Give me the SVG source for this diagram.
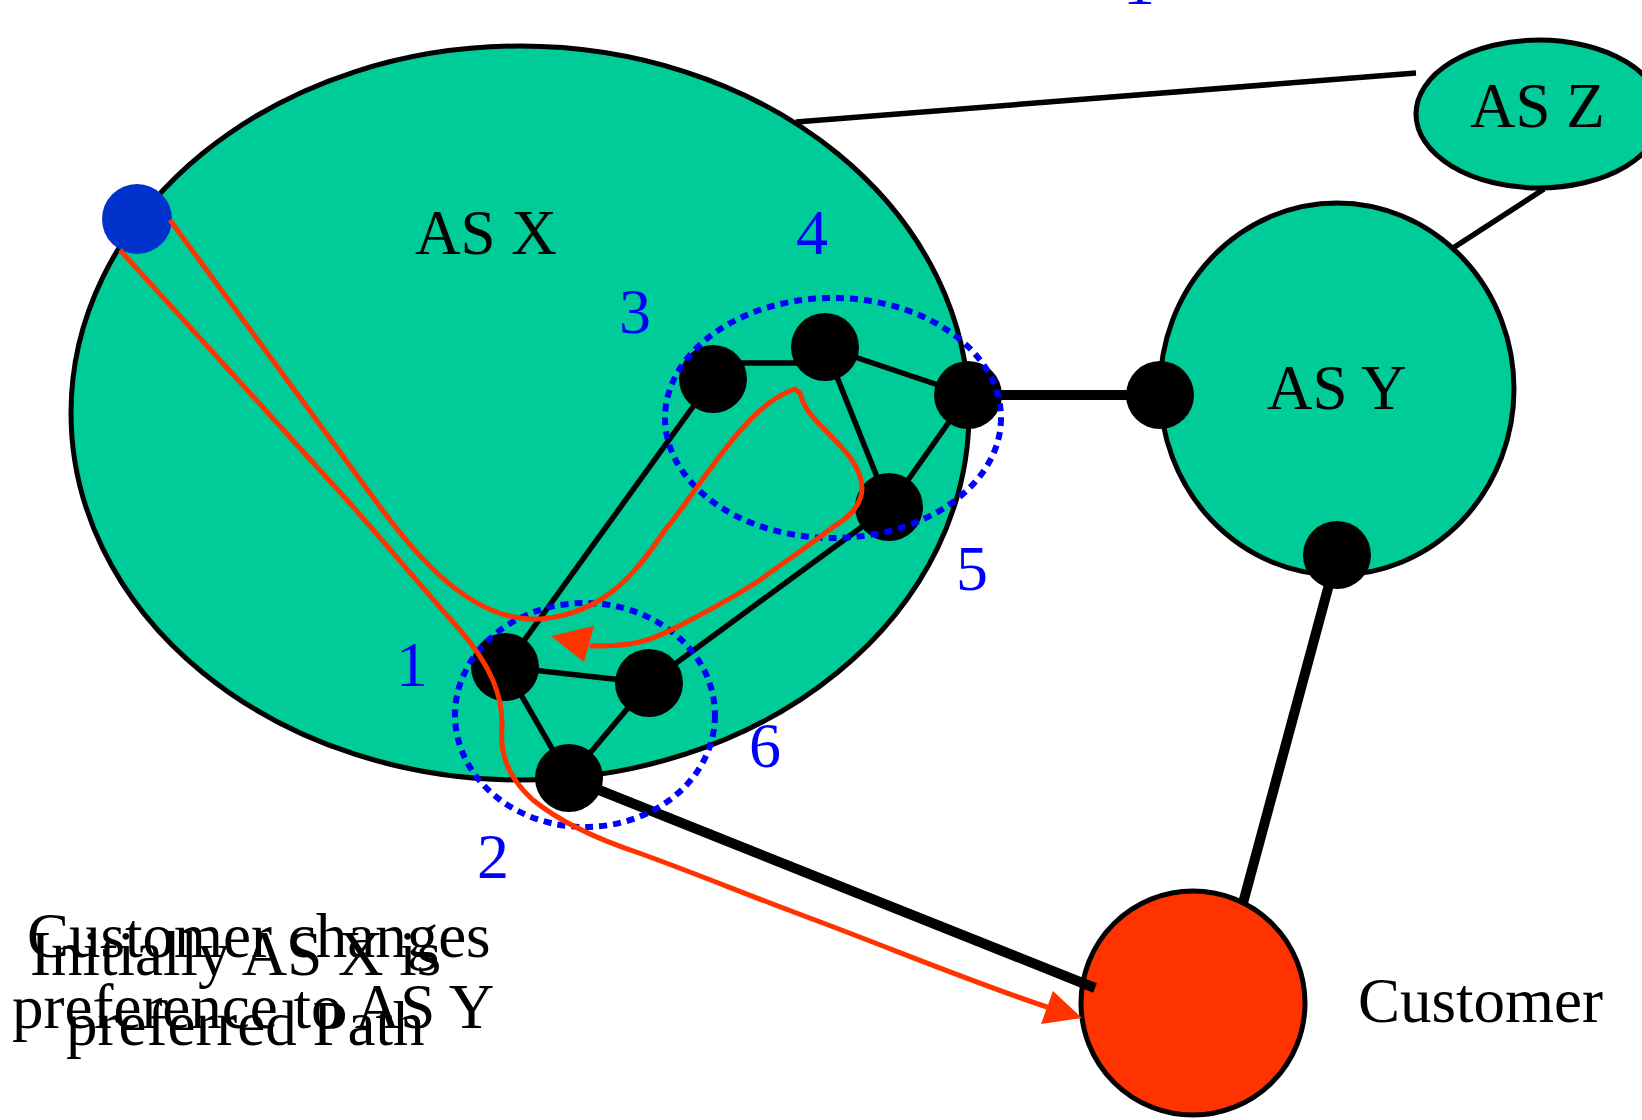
<svg xmlns="http://www.w3.org/2000/svg" width="1642" height="1120" viewBox="0 0 1642 1120">
<style>
.as{fill:#00CC99;stroke:#000;stroke-width:5}
.lbl{font-family:"Liberation Serif","Times New Roman",serif;font-size:63px;fill:#000}
.num{font-family:"Liberation Serif","Times New Roman",serif;font-size:64px;fill:#0000FF;text-anchor:middle}
.edge{stroke:#000;stroke-width:5.5;fill:none}
.thick{stroke:#000;stroke-width:10;fill:none}
.rt{fill:#000}
.grp{fill:none;stroke:#0000FF;stroke-width:6;stroke-dasharray:8 6}
.red{fill:none;stroke:#FF3300;stroke-width:5}
.redhead{fill:#FF3300}
</style>
<rect width="1642" height="1120" fill="#fff"/>
<g id="asx"><ellipse class="as" cx="520" cy="413" rx="449" ry="367"/><text class="lbl" x="415" y="254">AS X</text></g>
<g id="asy"><ellipse class="as" cx="1337" cy="389" rx="177" ry="186"/><text class="lbl" x="1267" y="409">AS Y</text></g>
<g id="asz"><ellipse class="as" cx="1539" cy="114" rx="123" ry="74"/><text class="lbl" x="1470" y="127">AS Z</text></g>
<g id="customer"><circle cx="1193" cy="1003" r="112" fill="#FF3300" stroke="#000" stroke-width="5"/><text class="lbl" x="1358" y="1022">Customer</text></g>
<g id="connectors">
<line class="edge" x1="796" y1="122" x2="1416" y2="73"/>
<line class="edge" x1="1453" y1="248" x2="1544" y2="189"/>
<line class="edge" x1="720" y1="363" x2="810" y2="363" stroke-width="7"/>
<line class="edge" x1="825" y1="347" x2="968" y2="395"/>
<line class="edge" x1="825" y1="347" x2="889" y2="507"/>
<line class="edge" x1="968" y1="395" x2="889" y2="507"/>
<line class="edge" x1="713" y1="379" x2="505" y2="667"/>
<line class="edge" x1="889" y1="507" x2="649" y2="683"/>
<line class="edge" x1="505" y1="667" x2="649" y2="683"/>
<line class="edge" x1="505" y1="667" x2="569" y2="778"/>
<line class="edge" x1="649" y1="683" x2="569" y2="778"/>
<line class="thick" x1="968" y1="395" x2="1160" y2="395"/>
<line class="thick" x1="569" y1="778" x2="1095" y2="988"/>
<line class="thick" x1="1337" y1="555" x2="1243" y2="903"/>
</g>
<g id="r3"><circle class="rt" cx="713" cy="379" r="34"/></g>
<g id="r4"><circle class="rt" cx="825" cy="347" r="34"/></g>
<g id="r5"><circle class="rt" cx="968" cy="395" r="34"/></g>
<g id="r5b"><circle class="rt" cx="889" cy="507" r="34"/></g>
<g id="r1"><circle class="rt" cx="505" cy="667" r="34"/></g>
<g id="r6"><circle class="rt" cx="649" cy="683" r="34"/></g>
<g id="r2"><circle class="rt" cx="569" cy="778" r="34"/></g>
<g id="ry1"><circle class="rt" cx="1160" cy="395" r="34"/></g>
<g id="ry2"><circle class="rt" cx="1337" cy="555" r="34"/></g>
<g id="src"><circle cx="137" cy="219" r="35" fill="#0033CC"/></g>
<g id="group-upper"><ellipse class="grp" cx="833" cy="418" rx="168" ry="120"/></g>
<g id="group-lower"><ellipse class="grp" cx="585" cy="715" rx="130" ry="112"/></g>
<g id="paths">
<path class="red" d="M170,220 L375,500 C410,548 460,610 520,618 C545,622 575,615 600,600 C625,585 645,560 665,530 C690,500 720,450 753,417 C768,402 783,393 795,389 L800,393 C803,405 808,412 820,425 C840,445 862,465 862,488 C862,505 850,517 833,527 C810,545 790,558 760,580 C730,600 700,615 677,627 C660,636 645,642 630,644 C615,646 605,646 590,646"/>
<polygon class="redhead" points="551,636 594,626 584,662"/>
<path class="red" d="M120,250 L347,500 C380,537 420,585 460,630 C490,665 503,695 502,727 C500,750 505,775 533,800 C560,822 600,840 639,853 C700,875 760,900 823,923 C900,952 980,985 1050,1008"/>
<polygon class="redhead" points="1082,1018 1053,991 1041,1024"/>
</g>
<g id="labels">
<text class="num" x="1139" y="4">1</text>
<text class="num" x="412" y="686">1</text>
<text class="num" x="493" y="878">2</text>
<text class="num" x="635" y="333">3</text>
<text class="num" x="812" y="254">4</text>
<text class="num" x="972" y="590">5</text>
<text class="num" x="765" y="767">6</text>
<text class="lbl" x="27" y="957">Customer changes</text>
<text class="lbl" x="12" y="1028">preference to AS Y</text>
<text class="lbl" x="30" y="975">Initially AS X is</text>
<text class="lbl" x="66" y="1045">preferred Path</text>
</g>
</svg>
